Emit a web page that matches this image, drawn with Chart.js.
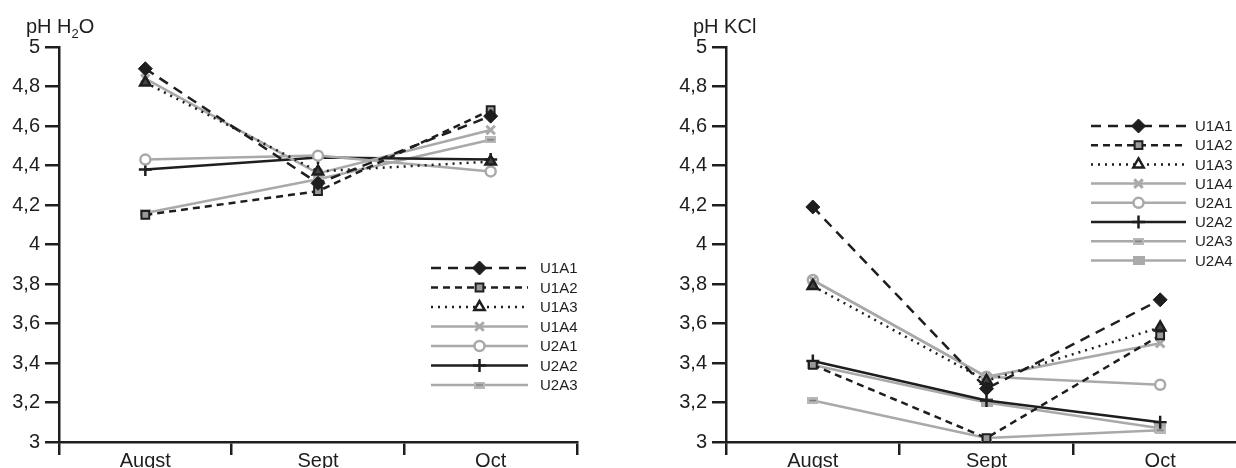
<!DOCTYPE html>
<html>
<head>
<meta charset="utf-8">
<script src="https://cdn.jsdelivr.net/npm/chart.js@4/dist/chart.umd.min.js"></script>
<style>
  html, body { margin: 0; padding: 0; background: #fff; }
  body { width: 1236px; height: 468px; overflow: hidden; position: relative; }
  canvas { position: absolute; top: 0; }
  #h2o { left: 0; }
  #kcl { left: 620px; }
</style>
</head>
<body>
<canvas id="h2o" width="620" height="468"></canvas>
<canvas id="kcl" width="640" height="468"></canvas>
<script>
// Mesi (categorie)
const months = ['Augst', 'Sept', 'Oct'];

// pH H2O
const h2oU1A1 = [4.89, 4.31, 4.65];
const h2oU1A2 = [4.15, 4.27, 4.68];
const h2oU1A3 = [4.82, 4.37, 4.42];
const h2oU1A4 = [4.84, 4.36, 4.58];
const h2oU2A1 = [4.43, 4.45, 4.37];
const h2oU2A2 = [4.38, 4.44, 4.43];
const h2oU2A3 = [4.16, 4.33, 4.53];

// pH KCl
const kclU1A1 = [4.19, 3.27, 3.72];
const kclU1A2 = [3.39, 3.02, 3.54];
const kclU1A3 = [3.79, 3.31, 3.58];
const kclU1A4 = [3.82, 3.33, 3.50];
const kclU2A1 = [3.82, 3.33, 3.29];
const kclU2A2 = [3.41, 3.21, 3.10];
const kclU2A3 = [3.21, 3.02, 3.06];
const kclU2A4 = [3.39, 3.20, 3.07];

const FONT = '"Liberation Sans", Arial, Helvetica, sans-serif';
const BLACK = '#1e1e1e';
const GRAY = '#a9a9a9';

// piccoli marker rettangolari (U2A3 / U2A4)
function markImg(w, h, fill, dash) {
  const c = document.createElement('canvas');
  c.width = w; c.height = h;
  const g = c.getContext('2d');
  g.fillStyle = fill;
  g.fillRect(0, 0, w, h);
  if (dash) {
    g.fillStyle = dash;
    g.fillRect(2, h / 2 - 0.75, w - 4, 1.5);
  }
  return c;
}
const minusMark = markImg(11, 7, '#b8b8b8', '#7a7a7a');
const squareMark = markImg(12, 9, '#aaaaaa', null);

// stili delle serie
const styles = {
  U1A1: { color: BLACK, dash: [10, 7], point: 'rectRot', radius: 7, bg: BLACK, bc: BLACK, bw: 1 },
  U1A2: { color: BLACK, dash: [7, 5], point: 'rect', radius: 5.5, bg: '#9a9a9a', bc: BLACK, bw: 2 },
  U1A3: { color: BLACK, dash: [2, 5], point: 'triangle', radius: 6, bg: '#444444', bc: BLACK, bw: 2.5 },
  U1A4: { color: GRAY, dash: [], point: 'crossRot', radius: 6, bg: GRAY, bc: GRAY, bw: 3 },
  U2A1: { color: GRAY, dash: [], point: 'circle', radius: 5, bg: '#ffffff', bc: GRAY, bw: 2.5 },
  U2A2: { color: BLACK, dash: [], point: 'cross', radius: 6.5, bg: BLACK, bc: BLACK, bw: 2.5 },
  U2A3: { color: GRAY, dash: [], point: minusMark, radius: 5, bg: GRAY, bc: GRAY, bw: 0 },
  U2A4: { color: GRAY, dash: [], point: squareMark, radius: 5, bg: GRAY, bc: GRAY, bw: 0 }
};

function makeDataset(label, data) {
  const s = styles[label];
  return {
    label: label,
    data: data,
    borderColor: s.color,
    borderWidth: 2.5,
    borderDash: s.dash,
    tension: 0,
    pointStyle: s.point,
    pointRadius: s.radius,
    pointBackgroundColor: s.bg,
    pointBorderColor: s.bc,
    pointBorderWidth: s.bw
  };
}

function fmtTick(v) {
  const r = Math.round(v * 10) / 10;
  return String(r).replace('.', ',');
}

// legenda disegnata a mano: linea con tratteggio + marker
function sampleLegend(o) {
  return {
    id: 'sampleLegend',
    afterDatasetsDraw(chart) {
      const ctx = chart.ctx;
      ctx.save();
      chart.data.datasets.forEach((ds, i) => {
        const s = styles[ds.label];
        const y = o.y0 + i * o.step;
        ctx.beginPath();
        ctx.setLineDash(s.dash);
        ctx.strokeStyle = s.color;
        ctx.lineWidth = 2.5;
        ctx.moveTo(o.x0, y);
        ctx.lineTo(o.x1, y);
        ctx.stroke();
        ctx.setLineDash([]);
        ctx.fillStyle = ds.label === 'U1A3' ? '#ffffff' : s.bg;
        ctx.strokeStyle = s.bc;
        ctx.lineWidth = s.bw;
        Chart.helpers.drawPoint(ctx, {
          pointStyle: s.point, radius: s.radius, rotation: 0, borderWidth: s.bw
        }, (o.x0 + o.x1) / 2, y);
        ctx.fillStyle = BLACK;
        ctx.font = '15px ' + FONT;
        ctx.textBaseline = 'middle';
        ctx.textAlign = 'left';
        ctx.fillText(ds.label, o.textX, y + 1);
      });
      ctx.restore();
    }
  };
}

// titolo dell'asse y (con pedice)
function axisTitle(parts, x, y) {
  return {
    id: 'axisTitle',
    afterDraw(chart) {
      const ctx = chart.ctx;
      ctx.save();
      ctx.fillStyle = BLACK;
      ctx.textBaseline = 'alphabetic';
      ctx.textAlign = 'left';
      let cx = x;
      parts.forEach(p => {
        ctx.font = (p.sub ? '13px ' : '20px ') + FONT;
        ctx.fillText(p.text, cx, p.sub ? y + 5 : y);
        cx += ctx.measureText(p.text).width;
      });
      ctx.restore();
    }
  };
}

function makeChart(id, datasets, yWidth, padRight, legendOpts, titleParts, titleX) {
  return new Chart(document.getElementById(id), {
    type: 'line',
    data: { labels: months, datasets: datasets },
    options: {
      responsive: false,
      animation: false,
      layout: { padding: { top: 47, right: padRight, left: 0, bottom: 0 } },
      plugins: { legend: { display: false }, tooltip: { enabled: false } },
      scales: {
        x: {
          type: 'category',
          offset: true,
          afterFit: s => { s.height = 26; },
          grid: { offset: true, drawOnChartArea: false, drawTicks: true, tickLength: 13, color: BLACK, lineWidth: 2.5 },
          border: { display: true, color: BLACK, width: 2.5 },
          ticks: { color: BLACK, font: { family: FONT, size: 20 }, padding: -6, maxRotation: 0 }
        },
        y: {
          min: 3,
          max: 5,
          afterFit: s => { s.width = yWidth; },
          grid: { drawOnChartArea: false, drawTicks: true, tickLength: 14, color: BLACK, lineWidth: 2.5 },
          border: { display: true, color: BLACK, width: 2.5 },
          ticks: { stepSize: 0.2, color: BLACK, font: { family: FONT, size: 20 }, padding: 5, callback: fmtTick }
        }
      }
    },
    plugins: [sampleLegend(legendOpts), axisTitle(titleParts, titleX, 33)]
  });
}

makeChart('h2o', [
  makeDataset('U1A1', h2oU1A1),
  makeDataset('U1A2', h2oU1A2),
  makeDataset('U1A3', h2oU1A3),
  makeDataset('U1A4', h2oU1A4),
  makeDataset('U2A1', h2oU2A1),
  makeDataset('U2A2', h2oU2A2),
  makeDataset('U2A3', h2oU2A3)
], 59, 43, { x0: 431, x1: 528, textX: 540, y0: 268, step: 19.5 },
  [{ text: 'pH H' }, { text: '2', sub: true }, { text: 'O' }], 26);

makeChart('kcl', [
  makeDataset('U1A1', kclU1A1),
  makeDataset('U1A2', kclU1A2),
  makeDataset('U1A3', kclU1A3),
  makeDataset('U1A4', kclU1A4),
  makeDataset('U2A1', kclU2A1),
  makeDataset('U2A2', kclU2A2),
  makeDataset('U2A3', kclU2A3),
  makeDataset('U2A4', kclU2A4)
], 106, 13, { x0: 471, x1: 566, textX: 575, y0: 126, step: 19.2 },
  [{ text: 'pH KCl' }], 73);
</script>
</body>
</html>
